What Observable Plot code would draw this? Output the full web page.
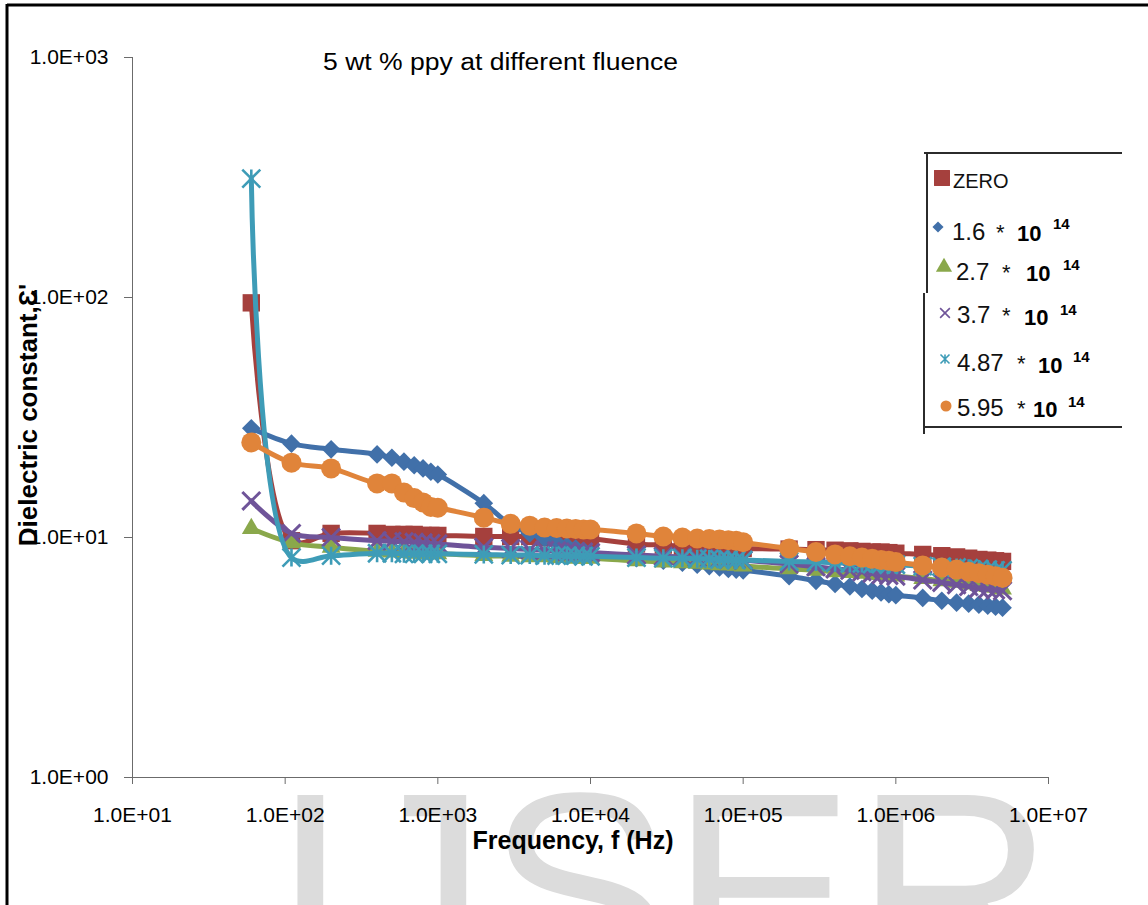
<!DOCTYPE html>
<html>
<head>
<meta charset="utf-8">
<script src="https://cdn.jsdelivr.net/npm/d3@7"></script>
<script src="https://cdn.jsdelivr.net/npm/@observablehq/plot@0.6"></script>
<style>
  body { margin: 0; background: #fff; }
  #wrap { position: relative; width: 1148px; height: 905px; overflow: hidden; background: #fff;
          font-family: "Liberation Sans", Arial, sans-serif; }
  #wrap > svg { position: absolute; left: 0; top: 0; }
</style>
</head>
<body>
<div id="wrap"></div>
<script>
// ---- data -------------------------------------------------------------
const frequencyHz = [
  60, 110, 200, 400, 500, 600, 700, 800, 900, 1000,
  2000, 3000, 4000, 5000, 6000, 7000, 8000, 9000, 10000,
  20000, 30000, 40000, 50000, 60000, 70000, 80000, 90000, 100000,
  200000, 300000, 400000, 500000, 600000, 700000, 800000, 900000, 1000000,
  1500000, 2000000, 2500000, 3000000, 3500000, 4000000, 4500000, 5000000
];

// dielectric constant for each fluence (ions/cm^2)
const fluenceZero = [
  95, 9.7, 10.4, 10.4, 10.3, 10.3, 10.3, 10.2, 10.2, 10.2,
  10.1, 10.1, 10.1, 10.0, 10.0, 10.0, 9.95, 9.95, 9.9,
  9.4, 9.3, 9.2, 9.15, 9.1, 9.1, 9.05, 9.05, 9.0,
  8.95, 8.9, 8.85, 8.8, 8.75, 8.7, 8.7, 8.65, 8.6,
  8.5, 8.4, 8.3, 8.2, 8.1, 8.05, 8.0, 7.95
];
const fluence16 = [
  28.5, 24.6, 23.3, 22.2, 21.5, 20.7, 20.0, 19.4, 18.8, 18.3,
  13.9, 11.3, 10.4, 9.9, 9.5, 9.2, 9.0, 8.8, 8.6,
  8.2, 8.0, 7.85, 7.7, 7.6, 7.5, 7.4, 7.35, 7.3,
  6.9, 6.6, 6.4, 6.25, 6.1, 6.0, 5.9, 5.8, 5.75,
  5.6, 5.45, 5.35, 5.3, 5.25, 5.2, 5.15, 5.1
];
const fluence27 = [
  10.9, 9.5, 9.1, 8.75, 8.7, 8.65, 8.6, 8.6, 8.55, 8.55,
  8.4, 8.35, 8.3, 8.3, 8.25, 8.25, 8.2, 8.2, 8.2,
  8.0, 7.9, 7.85, 7.8, 7.75, 7.7, 7.7, 7.65, 7.6,
  7.4, 7.3, 7.2, 7.15, 7.1, 7.05, 7.0, 6.95, 6.9,
  6.75, 6.6, 6.5, 6.4, 6.3, 6.25, 6.2, 6.1
];
const fluence37 = [
  14.2, 10.4, 10.0, 9.7, 9.65, 9.6, 9.55, 9.5, 9.45, 9.4,
  9.1, 9.0, 8.9, 8.85, 8.8, 8.75, 8.7, 8.7, 8.65,
  8.45, 8.35, 8.3, 8.25, 8.2, 8.15, 8.1, 8.1, 8.05,
  7.75, 7.55, 7.4, 7.3, 7.2, 7.1, 7.0, 6.95, 6.9,
  6.65, 6.5, 6.35, 6.25, 6.15, 6.1, 6.05, 6.0
];
const fluence487 = [
  313, 8.25, 8.4, 8.6, 8.6, 8.55, 8.55, 8.55, 8.55, 8.55,
  8.5, 8.45, 8.45, 8.4, 8.4, 8.4, 8.4, 8.35, 8.35,
  8.25, 8.2, 8.2, 8.15, 8.15, 8.1, 8.1, 8.05, 8.05,
  7.95, 7.9, 7.85, 7.8, 7.8, 7.75, 7.75, 7.7, 7.7,
  7.6, 7.55, 7.5, 7.45, 7.4, 7.35, 7.3, 7.3
];
const fluence595 = [
  24.9, 20.5, 19.4, 16.8, 16.8, 15.4, 14.6, 14.0, 13.4, 13.3,
  12.1, 11.4, 11.2, 11.0, 10.95, 10.9, 10.85, 10.8, 10.8,
  10.4, 10.1, 10.0, 9.9, 9.85, 9.8, 9.75, 9.7, 9.55,
  9.0, 8.7, 8.5, 8.35, 8.25, 8.15, 8.05, 8.0, 7.9,
  7.65, 7.5, 7.35, 7.2, 7.1, 7.0, 6.9, 6.8
];

const legendNames = ["ZERO", "1.6", "2.7", "3.7", "4.87", "5.95"];
const legendStar = "*";
const legendBase = "10";
const legendExponent = "14";

const xTickValues = [1e1, 1e2, 1e3, 1e4, 1e5, 1e6, 1e7];
const xTickLabels = ["1.0E+01", "1.0E+02", "1.0E+03", "1.0E+04", "1.0E+05", "1.0E+06", "1.0E+07"];
const yTickValues = [1, 10, 100, 1000];
const yTickLabels = ["1.0E+00", "1.0E+01", "1.0E+02", "1.0E+03"];

const titleText = "5 wt % ppy at different fluence";
const xLabelText = "Frequency, f (Hz)";
const yLabelText = "Dielectric constant,\u0190'";
const watermarkText = "IJSER";

// ---- styling ----------------------------------------------------------
const FONT = '"Liberation Sans", Arial, sans-serif';

// Excel-style star marker: an X with a vertical bar through it
const starMarker = {
  draw(ctx, size) {
    const r = Math.sqrt(size / Math.PI);
    ctx.moveTo(-r, -r); ctx.lineTo(r, r);
    ctx.moveTo(-r, r); ctx.lineTo(r, -r);
    ctx.moveTo(0, -r); ctx.lineTo(0, r);
  }
};

const seriesStyle = [
  {values: fluenceZero, color: "#a5403d", symbol: d3.symbolSquare,   r: 9.8, filled: true},
  {values: fluence16,   color: "#4170a9", symbol: d3.symbolDiamond2, r: 8.4, filled: true},
  {values: fluence27,   color: "#8aa84b", symbol: d3.symbolTriangle, r: 7.0, filled: true},
  {values: fluence37,   color: "#6f5499", symbol: d3.symbolTimes,    r: 8.2, filled: false, sw: 3},
  {values: fluence487,  color: "#3e9cb7", symbol: starMarker,        r: 9.0, filled: false, sw: 2.6},
  {values: fluence595,  color: "#e0843a", symbol: d3.symbolCircle,   r: 10,  filled: true}
];

// ---- chart ------------------------------------------------------------
const marks = [
  Plot.ruleX([10], {stroke: "#6b6b6b", strokeWidth: 1}),
  Plot.ruleY([1], {stroke: "#6b6b6b", strokeWidth: 1}),
  Plot.axisX({
    ticks: xTickValues,
    tickFormat: d => xTickLabels[xTickValues.indexOf(d)],
    tickSize: 7, tickPadding: 23, fontSize: 21,
    stroke: "#6b6b6b", fill: "#000", label: null
  }),
  Plot.axisY({
    ticks: yTickValues,
    tickFormat: d => yTickLabels[yTickValues.indexOf(d)],
    tickSize: 8, tickPadding: 16, fontSize: 21,
    stroke: "#6b6b6b", fill: "#000", label: null
  })
];

for (const s of seriesStyle) {
  const rows = frequencyHz.map((f, i) => ({f, v: s.values[i]}));
  marks.push(
    Plot.line(rows, {
      x: "f", y: "v", stroke: s.color, strokeWidth: 5,
      curve: "catmull-rom", strokeLinejoin: "round", strokeLinecap: "round"
    }),
    Plot.dot(rows, {
      x: "f", y: "v", symbol: s.symbol, r: s.r,
      fill: s.filled ? s.color : "none",
      stroke: s.color,
      strokeWidth: s.filled ? 0 : s.sw
    })
  );
}

const chart = Plot.plot({
  width: 1148,
  height: 905,
  marginTop: 57,
  marginBottom: 128,
  marginLeft: 132,
  marginRight: 100,
  style: {background: "transparent", fontFamily: FONT, color: "#000", overflow: "visible"},
  x: {type: "log", domain: [10, 1e7]},
  y: {type: "log", domain: [1, 1000]},
  marks
});

const wrap = document.getElementById("wrap");
const NS = "http://www.w3.org/2000/svg";

// watermark layer (behind the chart)
const back = d3.create("svg").attr("width", 1148).attr("height", 905);
back.append("text")
  .attr("x", 272).attr("y", 985)
  .attr("font-family", FONT).attr("font-size", 276)
  .attr("fill", "#dcdcdc")
  .text(watermarkText);
wrap.appendChild(back.node());

wrap.appendChild(chart);

// annotation layer: frame, title, axis titles, legend
const front = d3.create("svg").attr("width", 1148).attr("height", 905)
  .attr("font-family", FONT).style("pointer-events", "none");

front.append("line").attr("x1", 7).attr("x2", 1148).attr("y1", 5).attr("y2", 5)
  .attr("stroke", "#000").attr("stroke-width", 3);
front.append("line").attr("x1", 7).attr("x2", 7).attr("y1", 4).attr("y2", 905)
  .attr("stroke", "#000").attr("stroke-width", 3);

front.append("text")
  .attr("x", 323).attr("y", 70)
  .attr("font-size", 23)
  .attr("textLength", 355).attr("lengthAdjust", "spacingAndGlyphs")
  .text(titleText);

front.append("text")
  .attr("x", 573).attr("y", 849)
  .attr("text-anchor", "middle")
  .attr("font-size", 25).attr("font-weight", "bold")
  .text(xLabelText);

front.append("text")
  .attr("transform", "translate(37,415) rotate(-90)")
  .attr("text-anchor", "middle")
  .attr("font-size", 26).attr("font-weight", "bold")
  .text(yLabelText);

// legend box
const lg = front.append("g");
const boxStroke = "#2b2b2b";
lg.append("line").attr("x1", 924).attr("x2", 1122).attr("y1", 153).attr("y2", 153)
  .attr("stroke", boxStroke).attr("stroke-width", 2);
lg.append("line").attr("x1", 924).attr("x2", 1122).attr("y1", 427).attr("y2", 427)
  .attr("stroke", boxStroke).attr("stroke-width", 2);
lg.append("line").attr("x1", 927).attr("x2", 927).attr("y1", 152).attr("y2", 293)
  .attr("stroke", boxStroke).attr("stroke-width", 2);
lg.append("line").attr("x1", 924).attr("x2", 924).attr("y1", 293).attr("y2", 434)
  .attr("stroke", boxStroke).attr("stroke-width", 2);

// legend rows: marker position, text positions and baselines
const legendLayout = [
  {mx: 942, my: 178, ms: 9,   tx: 953, ty: 188},
  {mx: 938, my: 227, ms: 5,   tx: 952, ty: 240, sx: 996,  bx: 1017, by: 241, ex: 1053, ey: 229},
  {mx: 944, my: 267, ms: 6,   tx: 956, ty: 280, sx: 1002, bx: 1026, by: 281, ex: 1063, ey: 270},
  {mx: 945, my: 313, ms: 4.5, tx: 957, ty: 323, sx: 1002, bx: 1024, by: 325, ex: 1060, ey: 315},
  {mx: 945, my: 359, ms: 4.5, tx: 957, ty: 371, sx: 1017, bx: 1038, by: 373, ex: 1073, ey: 362},
  {mx: 946, my: 406, ms: 5.5, tx: 957, ty: 416, sx: 1017, bx: 1033, by: 417, ex: 1068, ey: 407}
];

seriesStyle.forEach((s, i) => {
  const L = legendLayout[i];
  const size = Math.PI * L.ms * L.ms;
  lg.append("path")
    .attr("transform", `translate(${L.mx},${L.my})`)
    .attr("d", d3.symbol(s.symbol, size)())
    .attr("fill", s.filled ? s.color : "none")
    .attr("stroke", s.color)
    .attr("stroke-width", s.filled ? 0 : 1.6);
  if (i === 0) {
    lg.append("text").attr("x", L.tx).attr("y", L.ty).attr("font-size", 20)
      .attr("fill", "#111").text(legendNames[i]);
  } else {
    lg.append("text").attr("x", L.tx).attr("y", L.ty).attr("font-size", 24)
      .attr("fill", "#111").text(legendNames[i]);
    lg.append("text").attr("x", L.sx).attr("y", L.ty).attr("font-size", 22)
      .attr("fill", "#111").text(legendStar);
    lg.append("text").attr("x", L.bx).attr("y", L.by).attr("font-size", 22)
      .attr("font-weight", "bold").attr("fill", "#000").text(legendBase);
    lg.append("text").attr("x", L.ex).attr("y", L.ey).attr("font-size", 15)
      .attr("font-weight", "bold").attr("fill", "#000").text(legendExponent);
  }
});

wrap.appendChild(front.node());
</script>
</body>
</html>
